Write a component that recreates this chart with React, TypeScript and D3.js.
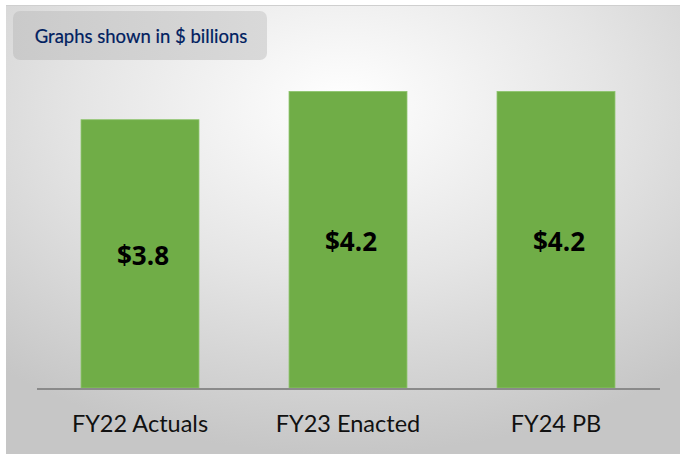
import * as d3 from "d3";

const categories = ["FY22 Actuals", "FY23 Enacted", "FY24 PB"];
const values = [3.8, 4.2, 4.2];
const valueLabels = ["$3.8", "$4.2", "$4.2"];
const unitNote = "Graphs shown in $ billions";

export default function App() {
  const width = 680;
  const height = 454;
  const baseY = 388;

  const x = d3
    .scaleBand<string>()
    .domain(categories)
    .range([36, 660])
    .paddingInner(0.433)
    .paddingOuter(0.2165);

  const y = d3.scaleLinear().domain([0, 5]).range([baseY, 35]);

  return (
    <svg
      width={width}
      height={height}
      style={{ position: "absolute", left: 0, top: 0 }}
    >
      <defs>
        <radialGradient id="bg" cx="50%" cy="22%" r="78%">
          <stop offset="0%" stopColor="#ffffff" />
          <stop offset="50%" stopColor="#e5e5e5" />
          <stop offset="100%" stopColor="#c6c6c6" />
        </radialGradient>
        <linearGradient id="tag" x1="0" y1="0" x2="1" y2="0">
          <stop offset="0%" stopColor="#cacaca" />
          <stop offset="100%" stopColor="#d9d9d9" />
        </linearGradient>
      </defs>
      <rect x={0} y={0} width={width} height={height} fill="#ffffff" />
      <rect x={6} y={5} width={width - 6} height={height - 5} fill="url(#bg)" />
      <line x1={6} x2={width} y1={5.5} y2={5.5} stroke="#cfcfcf" strokeWidth={1} />

      <rect x={13} y={11} width={254} height={49} rx={7} fill="url(#tag)" />
      <text
        x={141}
        y={43}
        textAnchor="middle"
        fontFamily="Lato, 'Open Sans', sans-serif"
        fontSize={18.5}
        fill="#002060"
        stroke="#002060"
        strokeWidth={0.2}
      >
        {unitNote}
      </text>

      {categories.map((c, i) => (
        <g key={c}>
          <rect
            x={x(c)}
            y={y(values[i])}
            width={x.bandwidth()}
            height={baseY - y(values[i])}
            fill="#70ad47"
            stroke="#8cc46a"
            strokeWidth={0.8}
          />
          <text
            x={(x(c) ?? 0) + x.bandwidth() / 2 + 3}
            y={(y(values[i]) + baseY) / 2}
            dy="0.44em"
            textAnchor="middle"
            fontFamily="'Open Sans', 'Noto Sans', sans-serif"
            fontWeight="bold"
            fontSize={26}
            fill="#000000"
          >
            {valueLabels[i]}
          </text>
          <text
            x={(x(c) ?? 0) + x.bandwidth() / 2}
            y={432}
            textAnchor="middle"
            fontFamily="Lato, 'Open Sans', sans-serif"
            fontSize={23.5}
            fill="#111111"
          >
            {c}
          </text>
        </g>
      ))}

      <line x1={37} x2={660} y1={baseY + 1} y2={baseY + 1} stroke="#8a8a8a" strokeWidth={2} />
    </svg>
  );
}
